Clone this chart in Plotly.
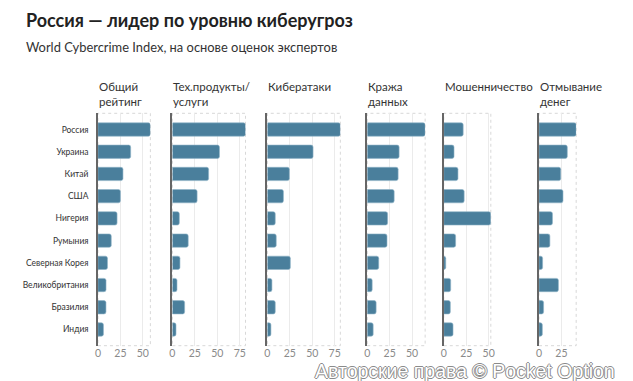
import plotly.graph_objects as go

countries = ["Россия", "Украина", "Китай", "США", "Нигерия", "Румыния",
             "Северная Корея", "Великобритания", "Бразилия", "Индия"]
overall = [58.39, 36.44, 27.86, 25.01, 21.28, 14.83, 10.61, 9.01, 8.93, 6.13]
tech = [81.4, 52.4, 40.3, 27.5, 7.7, 17.6, 8.4, 5.1, 13.6, 4.0]
attacks = [81.3, 50.9, 24.5, 17.9, 8.8, 9.9, 25.6, 5.1, 8.8, 4.0]
theft = [64.5, 35.5, 34.4, 30.0, 22.7, 22.0, 12.8, 5.5, 9.9, 6.6]
fraud = [21.6, 11.4, 15.8, 22.7, 52.4, 13.2, 2.2, 7.7, 7.3, 10.3]
laundering = [41.4, 31.5, 24.2, 26.7, 15.0, 12.1, 4.0, 21.6, 5.1, 3.7]

panel_titles = ["Общий<br>рейтинг", "Тех.продукты/<br>услуги", "Кибератаки",
                "Кража<br>данных", "Мошенничество", "Отмывание<br>денег"]
tick_values = [0, 25, 50, 75]

series = [overall, tech, attacks, theft, fraud, laundering]

W, H = 633, 381
K = 0.908  # px per unit
lefts = [96, 171.3, 267.3, 368.3, 445.7, 542]
y_top, y_bot = 113.3, 345.7
BAR = "#4a7f9c"
FONT = "Lato"

fig = go.Figure()
layout = dict(
    width=W, height=H, margin=dict(l=0, r=0, t=0, b=0),
    paper_bgcolor="white", plot_bgcolor="white", showlegend=False,
    font=dict(family=FONT, color="#333"),
)
shapes = []
annotations = []
for i, vals in enumerate(series):
    n = i + 1
    xa = "x" if n == 1 else f"x{n}"
    ya = "y" if n == 1 else f"y{n}"
    fig.add_trace(go.Bar(
        x=vals, y=countries, orientation="h", xaxis=xa, yaxis=ya,
        width=0.6, marker=dict(color=BAR, cornerradius=2,
                               line=dict(color="#8fb3c8", width=0.6)),
        hoverinfo="x+y",
    ))
    xmax = max(vals)
    dom = [lefts[i] / W, (lefts[i] + xmax * K) / W]
    xkey = "xaxis" if n == 1 else f"xaxis{n}"
    ykey = "yaxis" if n == 1 else f"yaxis{n}"
    layout[xkey] = dict(
        domain=dom, range=[0, xmax], anchor=ya, tickvals=[t for t in tick_values if t <= xmax],
        showgrid=True, gridcolor="#ebebeb", gridwidth=1, zeroline=False,
        showline=False, tickfont=dict(size=10.5, color="#8a8a8a", family=FONT),
        fixedrange=True,
    )
    layout[ykey] = dict(
        domain=[1 - y_bot / H, 1 - y_top / H], anchor=xa,
        categoryorder="array", categoryarray=countries, range=[9.73, -0.73],
        showline=True, linecolor="#666", linewidth=1.5, showgrid=False,
        showticklabels=(n == 1), ticks="", ticklabelstandoff=6,
        tickfont=dict(size=8.5, color="#333", family=FONT), fixedrange=True,
    )
    shapes.append(dict(type="rect", xref=f"{xa} domain", yref=f"{ya} domain",
                       x0=0, x1=1, y0=0, y1=1, line=dict(color="#d8d8d8", width=1, dash="dot"),
                       layer="below"))
    annotations.append(dict(
        text=panel_titles[i], xref=f"{xa} domain", yref="paper", x=0, y=1 - 78 / H,
        xanchor="left", yanchor="top", align="left", showarrow=False,
        font=dict(size=11.5, color="#333", family=FONT), xshift=-1,
    ))

annotations.append(dict(
    text="<b>Россия — лидер по уровню киберугроз</b>", xref="paper", yref="paper",
    x=21 / W, y=1 - 19.5 / H, xanchor="left", yanchor="middle", showarrow=False,
    font=dict(size=18, color="#222", family=FONT),
))
annotations.append(dict(
    text="World Cybercrime Index, на основе оценок экспертов", xref="paper", yref="paper",
    x=21 / W, y=1 - 47 / H, xanchor="left", yanchor="middle", showarrow=False,
    font=dict(size=12.9, color="#333", family=FONT),
))
annotations.append(dict(
    text="Авторские права © Pocket Option", xref="paper", yref="paper",
    x=621 / W, y=1 - 371 / H, xanchor="right", yanchor="middle", showarrow=False,
    font=dict(size=19.5, color="white", family="Liberation Sans",
              shadow="1px 0 0 #8a8a8a, -1px 0 0 #8a8a8a, 0 1px 0 #8a8a8a, 0 -1px 0 #8a8a8a"),
))
layout["shapes"] = shapes
layout["annotations"] = annotations
fig.update_layout(**layout)
fig.write_html("out.html", config={"displayModeBar": False},
               post_script="document.body.style.margin='0';document.body.style.overflow='hidden';")
